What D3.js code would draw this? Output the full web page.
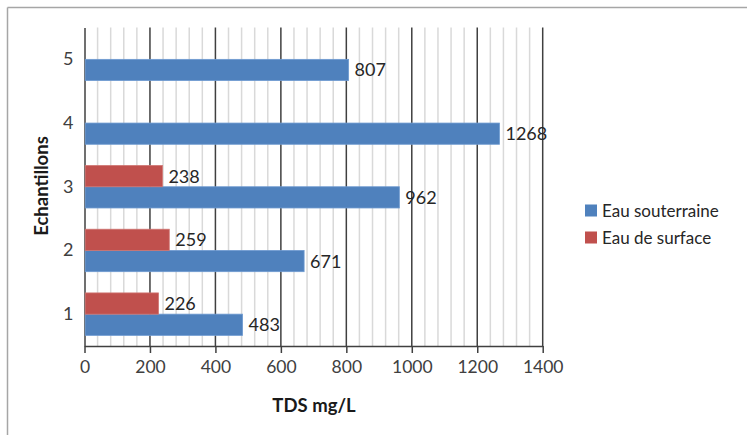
<!DOCTYPE html>
<html><head><meta charset="utf-8">
<script src="https://cdn.jsdelivr.net/npm/d3@7"></script>
<style>body{margin:0;background:#fff}svg{display:block}text{font-family:Lato,"Open Sans",sans-serif}</style>
</head><body>
<svg id="c" width="747" height="435"></svg>
<script>
const categories = ["1","2","3","4","5"];
const groundwater = [483, 671, 962, 1268, 807];
const surface = [226, 259, 238, null, null];
const seriesNames = ["Eau souterraine", "Eau de surface"];
const seriesColors = ["#4F81BD", "#C0504D"];
const xTicks = [0,200,400,600,800,1000,1200,1400];

const svg = d3.select("#c");
const L = 84.5, R = 542.7, T = 27.5, B = 346;
const x = d3.scaleLinear().domain([0,1400]).range([L,R]);
const y = d3.scaleBand().domain(categories.slice().reverse()).range([T,B]);
const sub = d3.scaleBand().domain(["surface","ground"]).range([0,y.bandwidth()]).paddingInner(0).paddingOuter(0.5);

// outer frame
svg.append("line").attr("x1",7.5).attr("x2",747).attr("y1",7.5).attr("y2",7.5).attr("stroke","#a6a6a6").attr("stroke-width",1.5);
svg.append("line").attr("x1",7.5).attr("x2",7.5).attr("y1",7.5).attr("y2",435).attr("stroke","#a6a6a6").attr("stroke-width",1.5);

// minor gridlines
const minor = d3.range(0,1401,40).filter(v=>v%200!==0);
svg.append("g").selectAll("line").data(minor).join("line")
  .attr("x1",d=>x(d)).attr("x2",d=>x(d)).attr("y1",T).attr("y2",B)
  .attr("stroke","#d9d9d9").attr("stroke-width",1.5);
// major gridlines
svg.append("g").selectAll("line").data(xTicks.slice(1)).join("line")
  .attr("x1",d=>x(d)).attr("x2",d=>x(d)).attr("y1",T).attr("y2",B)
  .attr("stroke","#404040").attr("stroke-width",1.5);

// x axis
const xa = svg.append("g").attr("transform",`translate(0,${B})`)
  .call(d3.axisBottom(x).tickValues(xTicks).tickFormat(d3.format("d")).tickSize(7).tickSizeOuter(0).tickPadding(8));
xa.select(".domain").attr("stroke","#404040").attr("stroke-width",1.5);
xa.selectAll(".tick line").attr("stroke","#404040").attr("stroke-width",1.5);
xa.selectAll("text").attr("font-size",17.5).attr("fill","#404040").attr("font-family","Lato,'Open Sans',sans-serif");

// y axis
const ya = svg.append("g").attr("transform",`translate(${L},0)`)
  .call(d3.axisLeft(y).tickSize(0).tickPadding(11));
ya.select(".domain").attr("stroke","#404040").attr("stroke-width",1.5);
ya.selectAll("text").attr("font-size",18).attr("fill","#404040").attr("font-family","Lato,'Open Sans',sans-serif");

// bars
const rows = categories.map((c,i)=>({c, ground:groundwater[i], surface:surface[i]}));
const keys = [["ground",0],["surface",1]];
keys.forEach(([k,si])=>{
  const data = rows.filter(r=>r[k]!=null);
  svg.append("g").selectAll("rect").data(data).join("rect")
    .attr("x",x(0)+0.75).attr("y",d=>y(d.c)+sub(k))
    .attr("width",d=>x(d[k])-x(0)-0.75).attr("height",sub.bandwidth())
    .attr("fill",seriesColors[si]).attr("stroke",si===0?"#6f9bd1":"#cf7572").attr("stroke-width",0.8);
  svg.append("g").selectAll("text").data(data).join("text")
    .attr("x",d=>x(d[k])+6).attr("y",d=>y(d.c)+sub(k)+sub.bandwidth()/2)
    .attr("dy","0.36em").attr("font-size",18).attr("fill","#262626")
    .text(d=>d[k]);
});

// titles
svg.append("text").attr("x",314).attr("y",405).attr("dy","0.36em").attr("text-anchor","middle")
  .attr("font-size",18.5).attr("font-weight","bold").attr("fill","#1a1a1a").text("TDS mg/L");
svg.append("text").attr("transform","translate(41,186) rotate(-90)").attr("dy","0.36em").attr("text-anchor","middle")
  .attr("font-size",18.5).attr("font-weight","bold").attr("fill","#1a1a1a").text("Echantillons");

// legend
const lg = svg.append("g");
seriesNames.forEach((n,i)=>{
  const cy = 210.5 + i*27;
  lg.append("rect").attr("x",585).attr("y",cy-6).attr("width",12).attr("height",12).attr("fill",seriesColors[i]);
  lg.append("text").attr("x",602).attr("y",cy).attr("dy","0.36em").attr("font-size",17).attr("fill","#262626").text(n);
});
</script>
</body></html>
